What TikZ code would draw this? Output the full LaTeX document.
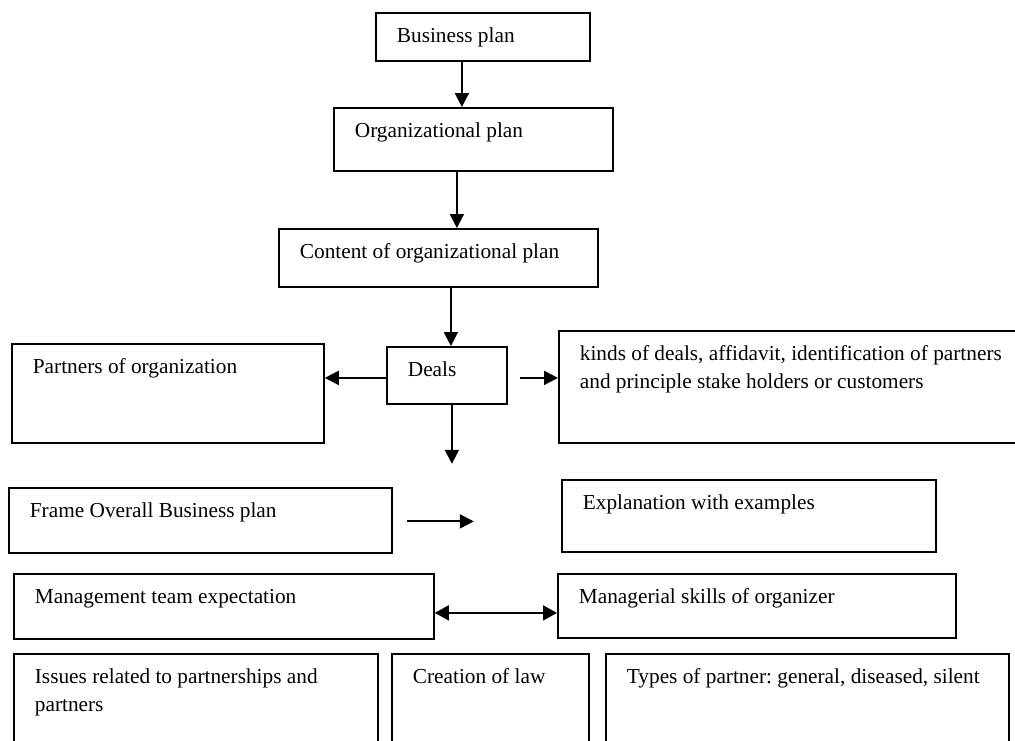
\documentclass[tikz,border=0pt]{standalone}
\usepackage{fontspec}
\setmainfont{Liberation Serif}
\usetikzlibrary{arrows.meta}
\begin{document}
\begin{tikzpicture}[x=1pt, y=-1pt,
  every node/.style={font=\fontsize{21.3}{28}\selectfont\frenchspacing},
  box/.style={draw, line width=1.8pt, anchor=north west, align=left,
    inner xsep=21pt, inner ysep=0pt, text height=30pt,
    execute at begin node={\spaceskip=0pt\xspaceskip=0pt}},
  arr/.style={line width=2pt, -{Triangle[length=14pt,width=14pt]}}]
  \useasboundingbox (0,0) rectangle (1015,740);
  \clip (0,0) rectangle (1015,740);
  % main chain down to the deals
  \node[box, text width=172pt, text depth=18pt] (bplan) at (375,12) {Business plan};
  \node[box, text width=237pt, text depth=33pt] (orgplan) at (333,107) {Organizational plan};
  \node[box, text width=277pt, text depth=28pt] (content) at (278,228) {Content of organizational plan};
  \node[box, text width=78pt, text depth=27pt] (deals) at (386,346) {Deals};
  \node[box, text width=270pt, text depth=69pt] (partners) at (11,343) {Partners of organization};
  \node[box, text width=435pt, text depth=82pt] (kinds) at (558,330)
    {kinds of deals, affidavit, identification of partners\\and principle stake holders or customers};
  % overall plan
  \node[box, text width=341pt, text depth=35pt] (frame) at (8,487) {Frame Overall Business plan};
  \node[box, text width=332pt, text depth=42pt] (expl) at (561,479) {Explanation with examples};
  \node[box, text width=378pt, text depth=35pt] (mgmt) at (13,573) {Management team expectation};
  \node[box, text width=356pt, text depth=34pt] (skills) at (557,573) {Managerial skills of organizer};
  % bottom row
  \node[box, text width=322pt, text depth=77pt] (issues) at (13,653) {Issues related to partnerships and\\partners};
  \node[box, text width=155pt, text depth=77pt] (law) at (391,653) {Creation of law};
  \node[box, text width=361pt, text depth=77pt] (types) at (605,653) {Types of partner: general, diseased, silent};
  % arrows
  \coordinate (dealsout) at ([xshift=5pt, yshift=-59pt]deals.south);
  \coordinate (framegapa) at ([xshift=14pt, yshift=-1pt]frame.east);
  \coordinate (framegapb) at ([xshift=81pt, yshift=-1pt]frame.east);
  \draw[arr] ([xshift=-21pt]bplan.south) -- ([xshift=-21pt]bplan.south |- orgplan.north);
  \draw[arr] ([xshift=-16.5pt]orgplan.south) -- ([xshift=-16.5pt]orgplan.south |- content.north);
  \draw[arr] ([xshift=4pt]deals.north |- content.south) -- ([xshift=4pt]deals.north);
  \draw[arr] ([yshift=-2.5pt]deals.west) -- ([yshift=-2.5pt]deals.west -| partners.east);
  \draw[arr] ([xshift=12pt, yshift=-2.5pt]deals.east) -- ([yshift=-2.5pt]deals.east -| kinds.west);
  \draw[arr] ([xshift=5pt]deals.south) -- (dealsout);
  \draw[arr] (framegapa) -- (framegapb);
  \draw[arr, line width=1.6pt, {Triangle[length=14pt,width=15pt]}-{Triangle[length=14pt,width=15pt]}]
    ([yshift=-6.5pt]mgmt.east) -- ([yshift=-6.5pt]mgmt.east -| skills.west);
\end{tikzpicture}
\end{document}
